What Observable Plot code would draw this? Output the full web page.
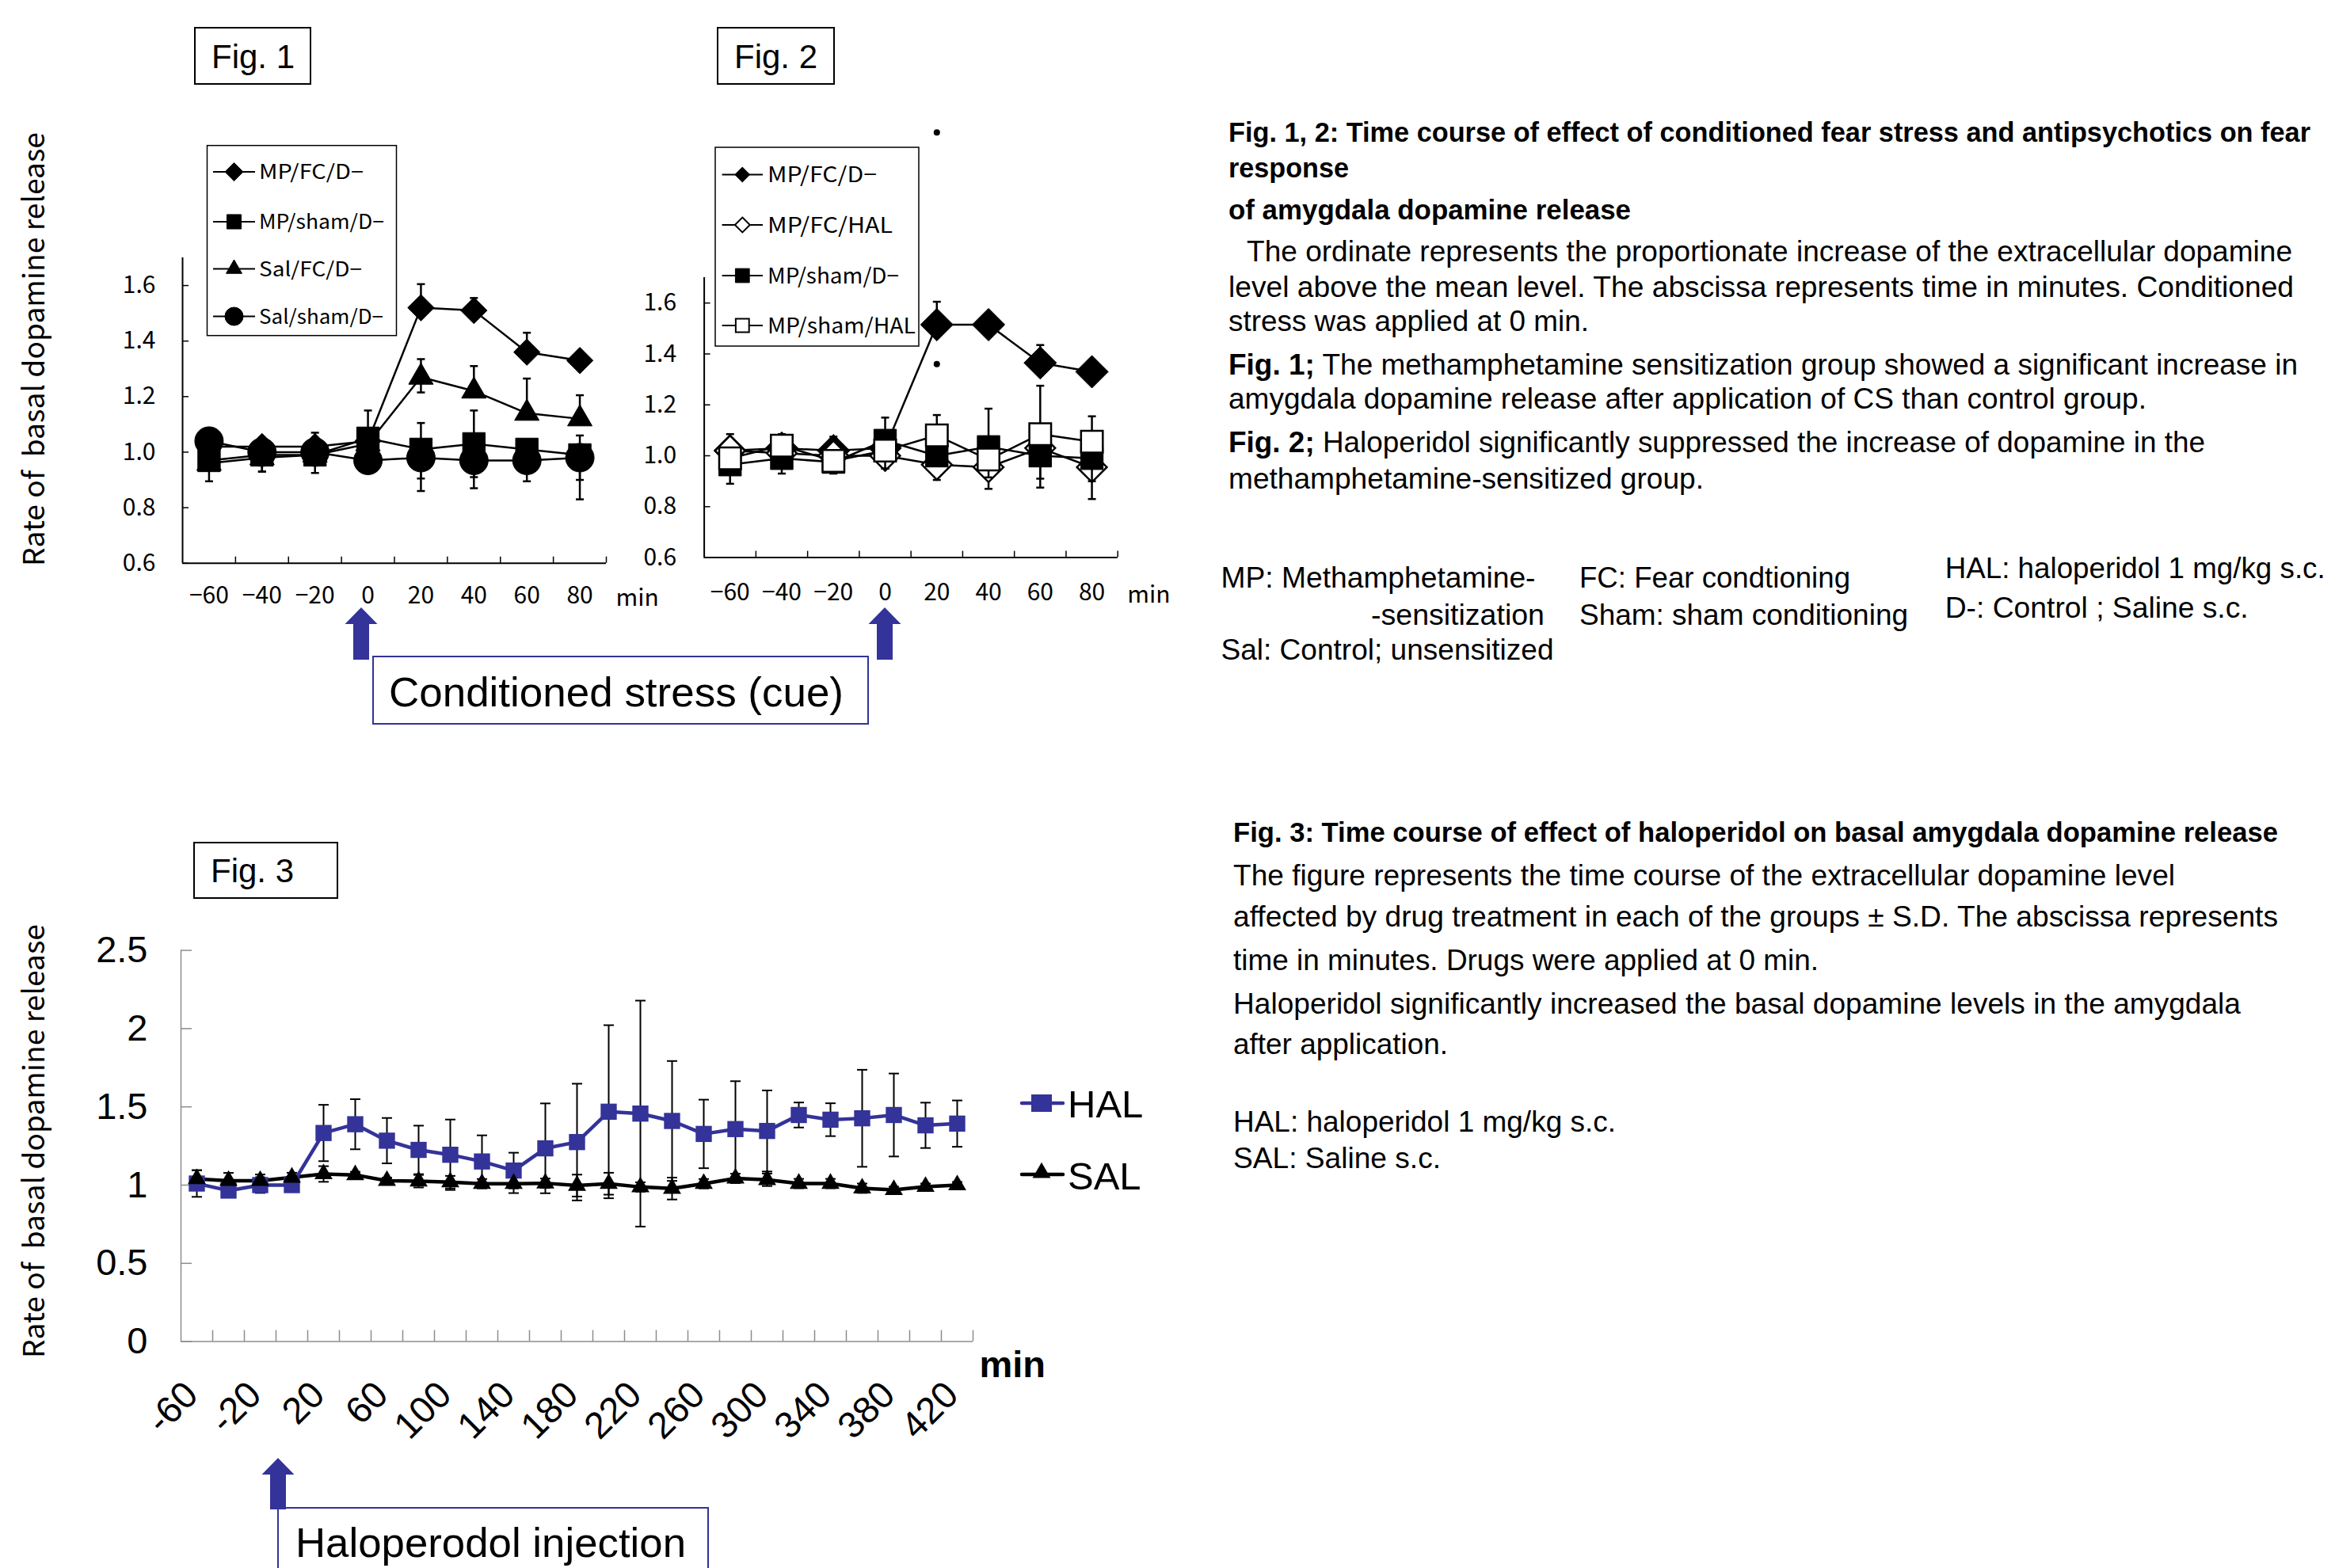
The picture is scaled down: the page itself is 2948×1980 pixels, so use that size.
<!DOCTYPE html>
<html><head><meta charset="utf-8">
<script src="https://cdn.jsdelivr.net/npm/d3@7"></script>
<script src="https://cdn.jsdelivr.net/npm/@observablehq/plot@0.6"></script>
<style>
html,body{margin:0;padding:0;background:#fff;}
#page{position:relative;width:2948px;height:1980px;overflow:hidden;background:#fff;}
.fig{position:absolute;}
</style></head><body><div id="page"></div>
<script>
// ---------------- DATA ----------------
const fig12Minutes = [-60, -40, -20, 0, 20, 40, 60, 80];
const fig12YTicks = [0.6, 0.8, 1.0, 1.2, 1.4, 1.6];

// Fig. 1
const fig1Names = ["MP/FC/D−", "MP/sham/D−", "Sal/FC/D−", "Sal/sham/D−"];
const fig1_MPFCD      = [1.02, 1.02, 1.02, 1.04, 1.52, 1.51, 1.36, 1.33];
const fig1_MPFCD_up   = [0, 0, 0.05, 0, 0.085, 0.045, 0.07, 0];
const fig1_MPFCD_dn   = [0, 0, 0, 0, 0, 0, 0, 0];
const fig1_MPshamD    = [0.97, 0.99, 0.99, 1.05, 1.01, 1.03, 1.01, 0.99];
const fig1_MPshamD_up = [0, 0, 0, 0.10, 0.095, 0.12, 0.03, 0.07];
const fig1_MPshamD_dn = [0, 0.06, 0, 0, 0.105, 0.12, 0, 0.09];
const fig1_SalFCD     = [0.96, 0.98, 0.99, 1.03, 1.27, 1.22, 1.14, 1.12];
const fig1_SalFCD_up  = [0, 0, 0, 0, 0.065, 0.09, 0.125, 0.085];
const fig1_SalFCD_dn  = [0.065, 0, 0, 0, 0.055, 0, 0, 0];
const fig1_SalshamD   = [1.04, 1.00, 1.00, 0.97, 0.98, 0.97, 0.97, 0.98];
const fig1_SalshamD_up= [0, 0, 0, 0, 0, 0, 0, 0];
const fig1_SalshamD_dn= [0, 0.07, 0.075, 0, 0.12, 0.10, 0.075, 0.15];

// Fig. 2
const fig2Names = ["MP/FC/D−", "MP/FC/HAL", "MP/sham/D−", "MP/sham/HAL"];
const fig2_MPFCD       = [1.02, 1.03, 1.02, 1.03, 1.515, 1.515, 1.365, 1.33];
const fig2_MPFCD_up    = [0.065, 0.055, 0.055, 0.12, 0.09, 0, 0.07, 0];
const fig2_MPFCD_dn    = [0, 0, 0, 0, 0, 0, 0, 0];
const fig2_MPFCHAL     = [1.02, 1.01, 1.00, 1.00, 0.965, 0.955, 1.03, 0.955];
const fig2_MPFCHAL_up  = [0, 0, 0, 0, 0, 0, 0, 0];
const fig2_MPFCHAL_dn  = [0, 0, 0, 0.05, 0.06, 0.085, 0.12, 0.125];
const fig2_MPshamD     = [0.965, 0.99, 0.975, 1.06, 1.00, 1.035, 1.00, 0.99];
const fig2_MPshamD_up  = [0, 0, 0, 0, 0, 0.15, 0, 0];
const fig2_MPshamD_dn  = [0.075, 0.06, 0.045, 0, 0, 0, 0.125, 0.09];
const fig2_MPshamHAL   = [0.99, 1.04, 0.98, 1.02, 1.08, 0.985, 1.085, 1.055];
const fig2_MPshamHAL_up= [0, 0, 0, 0, 0.08, 0, 0.19, 0.10];
const fig2_MPshamHAL_dn= [0, 0, 0, 0.07, 0, 0.07, 0, 0];
const fig2SigMinutes = [20, 20];
const fig2SigLevels  = [1.36, 2.27];

// Fig. 3
const fig3Minutes = [-60, -40, -20, 0, 20, 40, 60, 80, 100, 120, 140, 160, 180, 200, 220, 240, 260, 280, 300, 320, 340, 360, 380, 400, 420];
const fig3YTicks = [0, 0.5, 1, 1.5, 2, 2.5];
const fig3HAL   = [1.01, 0.965, 1.00, 1.00, 1.333, 1.389, 1.284, 1.225, 1.194, 1.151, 1.093, 1.235, 1.275, 1.469, 1.457, 1.41, 1.327, 1.358, 1.346, 1.448, 1.418, 1.427, 1.448, 1.382, 1.393];
const fig3HALsd = [0.085, 0.03, 0.05, 0.03, 0.18, 0.16, 0.145, 0.155, 0.225, 0.167, 0.114, 0.287, 0.373, 0.553, 0.722, 0.383, 0.219, 0.306, 0.259, 0.08, 0.105, 0.31, 0.265, 0.145, 0.148];
const fig3SAL   = [1.04, 1.028, 1.028, 1.049, 1.071, 1.065, 1.028, 1.025, 1.019, 1.009, 1.009, 1.012, 0.997, 1.009, 0.988, 0.978, 1.009, 1.043, 1.034, 1.01, 1.01, 0.98, 0.97, 0.99, 1.0];
const fig3SALsd = [0.055, 0.05, 0.04, 0.03, 0.05, 0.02, 0.02, 0.04, 0.04, 0.03, 0.06, 0.03, 0.07, 0.07, 0.03, 0.07, 0.03, 0.03, 0.04, 0.03, 0.03, 0.03, 0.02, 0.02, 0.02];

// ---------------- HELPERS ----------------
const JP = "'Noto Sans CJK JP', 'Noto Sans', sans-serif";
const AR = "'Liberation Sans', Arial, sans-serif";
const BLUE = "#333399";
const capSymbol = {draw(ctx, size) { const r = Math.sqrt(size / Math.PI); ctx.moveTo(-r, 0); ctx.lineTo(r, 0); }};

function rowsOf(times, values, up, dn) {
  return values.map((v, i) => ({t: times[i], v, up: up[i], dn: dn[i]}));
}
function errMarks(rows, sw, capR, color) {
  const U = rows.filter(d => d.up > 0), D = rows.filter(d => d.dn > 0);
  return [
    Plot.ruleX(U, {x: "t", y1: "v", y2: d => d.v + d.up, stroke: color, strokeWidth: sw}),
    Plot.dot(U, {x: "t", y: d => d.v + d.up, symbol: capSymbol, r: capR, stroke: color, strokeWidth: sw, fill: "none"}),
    Plot.ruleX(D, {x: "t", y1: "v", y2: d => d.v - d.dn, stroke: color, strokeWidth: sw}),
    Plot.dot(D, {x: "t", y: d => d.v - d.dn, symbol: capSymbol, r: capR, stroke: color, strokeWidth: sw, fill: "none"})
  ];
}
const fmtMin = d => d < 0 ? "−" + (-d) : String(d);

function smallPlot(cfg) {
  const xDom = [fig12Minutes[0] - 10, fig12Minutes[fig12Minutes.length - 1] + 10];
  const bounds = fig12Minutes.map(d => d + 10);
  const fw = cfg.width - cfg.ml - cfg.mr, fh = cfg.height - cfg.mt - cfg.mb;
  const marks = [
    Plot.ruleX([xDom[0]], {stroke: "black", strokeWidth: 2}),
    Plot.ruleY([fig12YTicks[0]], {stroke: "black", strokeWidth: 2}),
    Plot.tickX(bounds, {x: d => d, insetTop: fh - 8, stroke: "black", strokeWidth: 1.5}),
    Plot.tickY(fig12YTicks, {y: d => d, insetRight: fw - 8, stroke: "black", strokeWidth: 1.5}),
    Plot.text(fig12YTicks, {y: d => d, text: d => d.toFixed(1), frameAnchor: "left", dx: cfg.ydx, textAnchor: "end", fontSize: 30}),
    Plot.text(fig12Minutes, {x: d => d, text: fmtMin, frameAnchor: "bottom", dy: cfg.xdy, fontSize: 30}),
    Plot.text(["min"], {frameAnchor: "bottom-right", dx: cfg.mindx, dy: cfg.xdy + 3, textAnchor: "start", fontSize: 30})
  ];
  for (const s of cfg.series) {
    const rows = rowsOf(fig12Minutes, s.values, s.up, s.dn);
    marks.push(Plot.line(rows, {x: "t", y: "v", stroke: "black", strokeWidth: 2.5}));
    marks.push(...errMarks(rows, 2.5, 5, "black"));
    marks.push(Plot.dot(rows, {x: "t", y: "v", symbol: s.symbol, r: s.r, fill: s.fill, stroke: "black", strokeWidth: s.fill === "white" ? 2.5 : 1}));
  }
  if (cfg.sig) marks.push(Plot.dot(cfg.sig, {x: "t", y: "v", r: 4, fill: "black"}));
  return Plot.plot({
    width: cfg.width, height: cfg.height,
    marginLeft: cfg.ml, marginRight: cfg.mr, marginTop: cfg.mt, marginBottom: cfg.mb,
    x: {domain: xDom, axis: null},
    y: {domain: [0.6, 1.7], axis: null},
    style: {fontFamily: JP, fontSize: "30px", color: "black", background: "transparent", overflow: "visible"},
    marks
  });
}

const page = document.getElementById("page");
function place(el, left, top) { el.classList.add("fig"); el.style.left = left + "px"; el.style.top = top + "px"; page.appendChild(el); }

// ---------------- FIG 1 ----------------
const fig1 = smallPlot({
  width: 830, height: 800, ml: 230, mr: 65, mt: 325, mb: 89.3, ydx: -34, xdy: 51, mindx: 12,
  series: [
    {values: fig1_MPFCD, up: fig1_MPFCD_up, dn: fig1_MPFCD_dn, symbol: "diamond2", r: 15, fill: "black"},
    {values: fig1_MPshamD, up: fig1_MPshamD_up, dn: fig1_MPshamD_dn, symbol: "square", r: 16, fill: "black"},
    {values: fig1_SalFCD, up: fig1_SalFCD_up, dn: fig1_SalFCD_dn, symbol: "triangle", r: 11.5, fill: "black"},
    {values: fig1_SalshamD, up: fig1_SalshamD_up, dn: fig1_SalshamD_dn, symbol: "circle", r: 18, fill: "black"}
  ]
});
place(fig1, 0, 0);

// ---------------- FIG 2 ----------------
const fig2 = smallPlot({
  width: 720, height: 800, ml: 108.6, mr: 89.3, mt: 350, mb: 96.4, ydx: -35, xdy: 54, mindx: 12,
  series: [
    {values: fig2_MPFCD, up: fig2_MPFCD_up, dn: fig2_MPFCD_dn, symbol: "diamond2", r: 18.5, fill: "black"},
    {values: fig2_MPFCHAL, up: fig2_MPFCHAL_up, dn: fig2_MPFCHAL_dn, symbol: "diamond2", r: 17, fill: "white"},
    {values: fig2_MPshamD, up: fig2_MPshamD_up, dn: fig2_MPshamD_dn, symbol: "square", r: 16, fill: "black"},
    {values: fig2_MPshamHAL, up: fig2_MPshamHAL_up, dn: fig2_MPshamHAL_dn, symbol: "square", r: 15.5, fill: "white"}
  ],
  sig: fig2SigMinutes.map((t, i) => ({t, v: fig2SigLevels[i]}))
});
place(fig2, 780, 0);

// ---------------- FIG 3 ----------------
{
  const xDom = [fig3Minutes[0] - 10, fig3Minutes[fig3Minutes.length - 1] + 10];
  const bounds = fig3Minutes.map(d => d + 10);
  const W = 1350, H = 760, ml = 228, mr = 122, mt = 99.6, mb = 166.4;
  const fw = W - ml - mr, fh = H - mt - mb;
  const hal = rowsOf(fig3Minutes, fig3HAL, fig3HALsd, fig3HALsd);
  const sal = rowsOf(fig3Minutes, fig3SAL, fig3SALsd, fig3SALsd);
  const GRAY = "#8c8c8c";
  const fig3 = Plot.plot({
    width: W, height: H, marginLeft: ml, marginRight: mr, marginTop: mt, marginBottom: mb,
    x: {domain: xDom, axis: null},
    y: {domain: [0, 2.5], axis: null},
    style: {fontFamily: AR, fontSize: "45px", color: "black", background: "transparent", overflow: "visible"},
    marks: [
      Plot.ruleX([xDom[0]], {stroke: GRAY, strokeWidth: 1.5}),
      Plot.ruleY([0], {stroke: GRAY, strokeWidth: 1.5}),
      Plot.tickX(bounds, {x: d => d, insetTop: fh - 14, stroke: GRAY, strokeWidth: 1.5}),
      Plot.tickY(fig3YTicks, {y: d => d, insetRight: fw - 14, stroke: GRAY, strokeWidth: 1.5}),
      Plot.text(fig3YTicks, {y: d => d, text: d => String(d), frameAnchor: "left", dx: -42, textAnchor: "end", fontSize: 47}),
      Plot.text(fig3Minutes.filter((d, i) => i % 2 === 0), {x: d => d, text: d => String(d), frameAnchor: "bottom", rotate: -45, textAnchor: "end", dy: 70, dx: 4, fontSize: 47}),
      Plot.text(["min"], {frameAnchor: "bottom-right", dx: 8, dy: 45, textAnchor: "start", fontSize: 47, fontWeight: "bold"}),
      ...errMarks(sal, 2, 6.5, "black"),
      ...errMarks(hal, 2, 6.5, "black"),
      Plot.line(sal, {x: "t", y: "v", stroke: "black", strokeWidth: 4.5}),
      Plot.line(hal, {x: "t", y: "v", stroke: BLUE, strokeWidth: 4.5}),
      Plot.dot(hal, {x: "t", y: "v", symbol: "square", r: 11.5, fill: BLUE}),
      Plot.dot(sal, {x: "t", y: "v", symbol: "triangle", r: 8.5, fill: "black"})
    ]
  });
  place(fig3, 0, 1100);
}

// ---------------- OVERLAY (boxes, arrows, legends, captions) ----------------
const ov = d3.select(page).append("svg")
  .attr("width", 2948).attr("height", 1980)
  .style("position", "absolute").style("left", "0px").style("top", "0px");

function T(g, o) {
  const t = g.append("text").attr("x", o.x).attr("y", o.y)
    .attr("font-family", o.fam || AR).attr("font-size", o.s)
    .attr("font-weight", o.bold ? "bold" : "normal").attr("fill", "black")
    .style("white-space", "pre");
  if (o.anchor) t.attr("text-anchor", o.anchor);
  if (o.rot) t.attr("transform", `rotate(${o.rot},${o.x},${o.y})`);
  if (o.parts) { for (const p of o.parts) t.append("tspan").attr("font-weight", p.bold ? "bold" : "normal").text(p.t); }
  else t.text(o.t);
  if (o.len) {
    const nat = t.node().getComputedTextLength();
    if (nat > o.len) t.attr("font-size", o.s * o.len / nat);
    t.attr("textLength", o.len).attr("lengthAdjust", "spacingAndGlyphs");
  }
  return t;
}

// Figure labels
[["Fig. 1", 246, 35, 146, 71], ["Fig. 2", 906, 35, 147, 71], ["Fig. 3", 245, 1064, 181, 70]].forEach(([lab, x, y, w, h]) => {
  ov.append("rect").attr("x", x).attr("y", y).attr("width", w).attr("height", h).attr("fill", "white").attr("stroke", "black").attr("stroke-width", 2);
  T(ov, {x: x + 21, y: y + h / 2 + 15, s: 42, t: lab});
});

// Y-axis titles
T(ov, {x: 43, y: 441, s: 37, t: "Rate of  basal dopamine release", fam: JP, anchor: "middle", rot: -90, len: 548}).attr("dy", "0.35em");
T(ov, {x: 43, y: 1441, s: 37, t: "Rate of  basal dopamine release", fam: JP, anchor: "middle", rot: -90, len: 548}).attr("dy", "0.35em");

// Arrows
function arrow(cx, top, headBase, bottom, halfHead, halfShaft) {
  ov.append("path").attr("fill", BLUE)
    .attr("d", `M${cx},${top}L${cx + halfHead},${headBase}L${cx + halfShaft},${headBase}L${cx + halfShaft},${bottom}L${cx - halfShaft},${bottom}L${cx - halfShaft},${headBase}L${cx - halfHead},${headBase}Z`);
}
arrow(456, 767, 788, 833, 20.5, 10);
arrow(1117, 767, 788, 833, 20.5, 10);
arrow(351, 1841, 1862, 1906, 20.5, 10);

// Annotation boxes
ov.append("rect").attr("x", 471).attr("y", 829).attr("width", 625).attr("height", 85).attr("fill", "white").attr("stroke", BLUE).attr("stroke-width", 2);
T(ov, {x: 491, y: 892, s: 52, t: "Conditioned stress (cue)", len: 574});
ov.append("rect").attr("x", 351).attr("y", 1904).attr("width", 543).attr("height", 120).attr("fill", "none").attr("stroke", BLUE).attr("stroke-width", 2);
T(ov, {x: 373, y: 1966, s: 52, t: "Haloperodol injection", len: 493});

// Legends for Fig 1 and Fig 2
function legend(box, entries, lineX0, lineX1, textX, fs) {
  ov.append("rect").attr("x", box[0]).attr("y", box[1]).attr("width", box[2]).attr("height", box[3]).attr("fill", "white").attr("stroke", "black").attr("stroke-width", 1.5);
  const mx = (lineX0 + lineX1) / 2;
  for (const e of entries) {
    ov.append("line").attr("x1", lineX0).attr("x2", lineX1).attr("y1", e.y).attr("y2", e.y).attr("stroke", "black").attr("stroke-width", 2);
    ov.append("path").attr("d", d3.symbol(e.sym, Math.PI * e.r * e.r)()).attr("transform", `translate(${mx},${e.y})`)
      .attr("fill", e.fill).attr("stroke", "black").attr("stroke-width", e.fill === "white" ? 2 : 1);
    T(ov, {x: textX, y: e.y, s: fs, t: e.t, fam: JP, len: e.len}).attr("dy", "0.36em");
  }
}
legend([261.5, 183.7, 239, 240], [
  {y: 217, t: fig1Names[0], sym: d3.symbolDiamond2, r: 10.4, fill: "black", len: 132},
  {y: 280, t: fig1Names[1], sym: d3.symbolSquare, r: 10.2, fill: "black", len: 158},
  {y: 339.5, t: fig1Names[2], sym: d3.symbolTriangle, r: 7.4, fill: "black", len: 130},
  {y: 399.5, t: fig1Names[3], sym: d3.symbolCircle, r: 11.5, fill: "black", len: 157}
], 269, 322, 327, 25);
legend([903, 186, 257, 251], [
  {y: 220.5, t: fig2Names[0], sym: d3.symbolDiamond2, r: 8.5, fill: "black", len: 138},
  {y: 284, t: fig2Names[1], sym: d3.symbolDiamond2, r: 8.5, fill: "white", len: 158},
  {y: 348, t: fig2Names[2], sym: d3.symbolSquare, r: 10, fill: "black", len: 166},
  {y: 411, t: fig2Names[3], sym: d3.symbolSquare, r: 9.5, fill: "white", len: 187}
], 911.6, 963, 969, 27);

// Legend for Fig 3
ov.append("line").attr("x1", 1290).attr("x2", 1342).attr("y1", 1393).attr("y2", 1393).attr("stroke", BLUE).attr("stroke-width", 4.5).attr("stroke-linecap", "round");
ov.append("rect").attr("x", 1302).attr("y", 1382).attr("width", 26).attr("height", 22).attr("fill", BLUE);
T(ov, {x: 1348, y: 1410.5, s: 49, t: "HAL"});
ov.append("line").attr("x1", 1290).attr("x2", 1342).attr("y1", 1483).attr("y2", 1483).attr("stroke", "black").attr("stroke-width", 4.5).attr("stroke-linecap", "round");
ov.append("path").attr("d", d3.symbol(d3.symbolTriangle, Math.PI * 8.5 * 8.5)()).attr("transform", "translate(1315,1481)").attr("fill", "black");
T(ov, {x: 1348, y: 1501.5, s: 49, t: "SAL"});

// Captions (right side)
const cap = [
  {x: 1551, y: 179, s: 36, bold: true, t: "Fig. 1, 2: Time course of effect of conditioned fear stress and antipsychotics on fear", len: 1366},
  {x: 1551, y: 224, s: 36, bold: true, t: "response", len: 152},
  {x: 1551, y: 277, s: 36, bold: true, t: "of amygdala dopamine release", len: 508},
  {x: 1574, y: 330, s: 37, t: "The ordinate represents the proportionate increase of the extracellular dopamine", len: 1320},
  {x: 1551, y: 375, s: 37, t: "level above the mean level. The abscissa represents time in minutes. Conditioned", len: 1345},
  {x: 1551, y: 418, s: 37, t: "stress was applied at 0 min.", len: 455},
  {x: 1551, y: 473, s: 37, parts: [{t: "Fig. 1;", bold: true}, {t: " The methamphetamine sensitization group showed a significant increase in"}], len: 1350},
  {x: 1551, y: 516, s: 37, t: "amygdala dopamine release after application of CS than control group.", len: 1159},
  {x: 1551, y: 571, s: 37, parts: [{t: "Fig. 2;", bold: true}, {t: " Haloperidol significantly suppressed the increase of dopamine in the"}], len: 1233},
  {x: 1551, y: 617, s: 37, t: "methamphetamine-sensitized group.", len: 600},
  {x: 1541.5, y: 742, s: 37, t: "MP: Methamphetamine-", len: 397},
  {x: 1731, y: 789, s: 37, t: "-sensitization", len: 219},
  {x: 1541.5, y: 833, s: 37, t: "Sal: Control; unsensitized", len: 420},
  {x: 1994, y: 742, s: 37, t: "FC: Fear condtioning", len: 342},
  {x: 1994, y: 789, s: 37, t: "Sham: sham conditioning", len: 415},
  {x: 2455.7, y: 730, s: 37, t: "HAL: haloperidol 1 mg/kg s.c.", len: 480},
  {x: 2455.7, y: 780, s: 37, t: "D-: Control ; Saline s.c.", len: 383},
  {x: 1557, y: 1063, s: 36, bold: true, t: "Fig. 3: Time course of effect of haloperidol on basal amygdala dopamine release", len: 1319},
  {x: 1557, y: 1118, s: 37, t: "The figure represents the time course of the extracellular dopamine level", len: 1189},
  {x: 1557, y: 1170, s: 37, t: "affected by drug treatment in each of the groups ± S.D. The abscissa represents", len: 1319},
  {x: 1557, y: 1225, s: 37, t: "time in minutes. Drugs were applied at 0 min.", len: 739},
  {x: 1557, y: 1280, s: 37, t: "Haloperidol significantly increased the basal dopamine levels in the amygdala", len: 1272},
  {x: 1557, y: 1331, s: 37, t: "after application.", len: 271},
  {x: 1557, y: 1429, s: 37, t: "HAL: haloperidol 1 mg/kg s.c.", len: 483},
  {x: 1557, y: 1475, s: 37, t: "SAL: Saline s.c.", len: 262}
];
for (const c of cap) T(ov, c);
</script></body></html>
